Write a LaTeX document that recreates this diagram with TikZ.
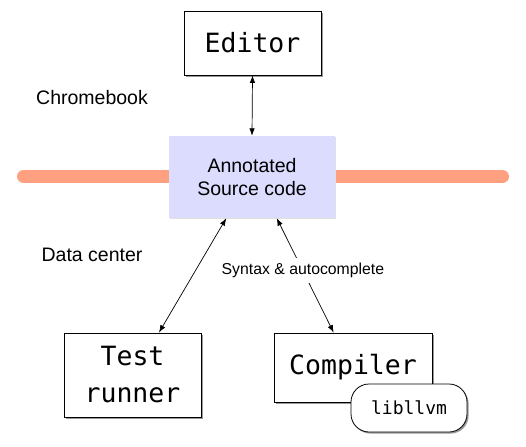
\documentclass[tikz,border=0pt]{standalone}
\usepackage{fontspec}
\setmainfont{Liberation Sans}
\setmonofont{DejaVu Sans Mono}
\usetikzlibrary{arrows.meta,shadows,positioning}
\definecolor{bandorange}{HTML}{FFA080}
\definecolor{srcblue}{HTML}{DCDCFE}
\begin{document}
\begin{tikzpicture}[x=1pt, y=-1pt]
    \tikzset{BoxStyle/.style = {draw, fill=white, line width=0.8pt,
        drop shadow={shadow xshift=1.6pt, shadow yshift=-1.6pt, fill=black!40, opacity=1},
        font=\ttfamily\fontsize{26.5}{37}\selectfont, align=center, inner sep=0pt},
      TextStyle/.style = {font=\fontsize{19.5}{23}\selectfont},
      EdgeStyle/.style = {line width=0.7pt, {Latex[length=7.5pt,width=5.5pt]}-{Latex[length=7.5pt,width=5.5pt]}}}
    \useasboundingbox (0,0) rectangle (526,446);
    \draw[bandorange, line width=13pt, line cap=round] (23.5,176.5) -- (502.5,176.5);
    \node[BoxStyle, minimum width=137pt, minimum height=64pt] (ed) at (252.5,43) {Editor};
    \node[fill=srcblue, TextStyle, align=center, minimum width=166pt, minimum height=82pt,
      drop shadow={shadow xshift=1pt, shadow yshift=-1pt, fill=black!12, opacity=1}] (src) at (252,177) {Annotated\\Source code};
    \node[BoxStyle, minimum width=137pt, minimum height=84pt] (test) at (132.5,375) {Test\\runner};
    \node[BoxStyle, minimum width=158pt, minimum height=69pt] (comp) at (353,367.5) {Compiler};
    \node[BoxStyle, rounded corners=18pt, minimum width=116pt, minimum height=48pt,
      font=\ttfamily\fontsize{18}{22}\selectfont] (lib) at (409,408) {libllvm};
    \node[TextStyle] (chrome) at (92,98) {Chromebook};
    \node[TextStyle] (dc) at (92,255) {Data center};
    \draw[EdgeStyle] (ed.south) -- (src.north);
    \draw[EdgeStyle] (test.58) -- (src.238);
    \draw[EdgeStyle] (src.301) -- node[pos=0.46, fill=white, inner xsep=2pt, inner ysep=5pt,
      font=\fontsize{15.8}{18}\selectfont] (syn) {Syntax \& autocomplete} (comp.119);
\end{tikzpicture}
\end{document}
